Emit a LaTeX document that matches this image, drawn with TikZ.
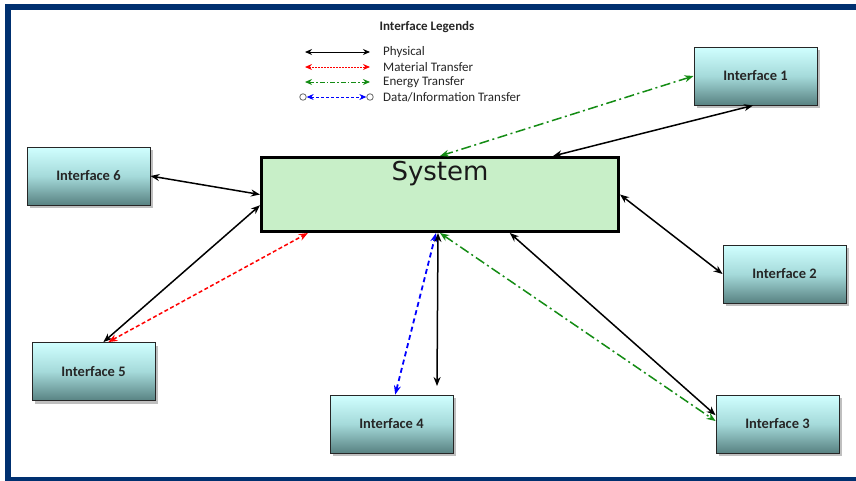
\documentclass[tikz,border=0pt]{standalone}
\usepackage{fontspec}
\setmainfont{Carlito}
\newfontfamily\sysfont{DejaVu Sans}
\usetikzlibrary{arrows.meta,shadows,calc}
\definecolor{frameblue}{RGB}{0,48,112}
\definecolor{sysgreen}{RGB}{200,239,200}
\definecolor{engreen}{RGB}{20,140,20}
\definecolor{infblue}{RGB}{0,0,255}
\definecolor{matred}{RGB}{255,0,0}
\definecolor{boxtop}{RGB}{208,255,255}
\definecolor{boxmid}{RGB}{165,218,218}
\definecolor{boxbot}{RGB}{88,130,130}
\begin{document}
\begin{tikzpicture}[x=1pt,y=-1pt,
  iface/.style={draw=black!85, line width=0.9pt, minimum width=123pt, minimum height=58pt,
    top color=boxtop, bottom color=boxbot, middle color=boxmid,
    font=\bfseries\fontsize{14.5}{16}\selectfont, text=black!85, inner sep=0pt,
    drop shadow={shadow xshift=3pt, shadow yshift=-3pt, fill=black!25, opacity=1}},
  sysbox/.style={draw=black, line width=3pt, fill=sysgreen, minimum width=357pt, minimum height=74pt, inner sep=0pt},
  tipbig/.style={{Stealth[length=9pt,width=7pt]}-{Stealth[length=9pt,width=7pt]}},
  phys/.style={black, line width=1.5pt, tipbig},
  matl/.style={matred, line width=1.5pt, dash pattern=on 4pt off 2.5pt, tipbig},
  enrg/.style={engreen, line width=1.5pt, dash pattern=on 10pt off 3.5pt on 2pt off 3.5pt, tipbig},
  data/.style={infblue, line width=1.8pt, dash pattern=on 5pt off 3.5pt, tipbig},
  tipsmall/.style={{Stealth[length=7pt,width=6pt]}-{Stealth[length=7pt,width=6pt]}},
  legtxt/.style={anchor=west, font=\fontsize{13}{15}\selectfont, text=black!85, inner sep=0pt},
  endcirc/.style={circle, draw=black!60, fill=white, line width=0.8pt, minimum size=6.5pt, inner sep=0pt}
]
\useasboundingbox (0,0) rectangle (856,480);
\fill[white] (0,0) rectangle (856,480);
\draw[frameblue, line width=6pt] (8,7) rectangle (880,479.5);

% legend
\node[font=\bfseries\fontsize{13}{15}\selectfont, text=black!85] (legtitle) at (427,27) {Interface Legends};
\coordinate (p1) at (305,52); \coordinate (p2) at (370,52);
\coordinate (m1) at (305,67); \coordinate (m2) at (370,67);
\coordinate (e1) at (305,82); \coordinate (e2) at (370,82);
\node[endcirc] (d1) at (303,97) {};
\node[endcirc] (d2) at (370,97) {};
\draw[black, line width=1pt, tipsmall] (p1) -- (p2);
\draw[matred, line width=1pt, dash pattern=on 2pt off 1pt, tipsmall] (m1) -- (m2);
\draw[engreen, line width=1pt, dash pattern=on 5pt off 2pt on 1.5pt off 2pt, tipsmall] (e1) -- (e2);
\draw[infblue, line width=1pt, dash pattern=on 3pt off 2pt, tipsmall] (d1) -- (d2);
\node[legtxt] (lt1) at (383,52) {Physical};
\node[legtxt] (lt2) at (383,67) {Material Transfer};
\node[legtxt] (lt3) at (383,82) {Energy Transfer};
\node[legtxt] (lt4) at (383,97) {Data/Information Transfer};

% nodes
\node[sysbox] (sys) at (440,194.5) {};
\node[font=\sysfont\fontsize{26}{30}\selectfont, anchor=base, text=black!90, inner sep=0pt] (systitle) at (440,180) {System};
\node[iface] (i1) at (755.5,76) {Interface 1};
\node[iface] (i2) at (784.5,274) {Interface 2};
\node[iface] (i3) at (777.5,424) {Interface 3};
\node[iface] (i4) at (391.5,424) {Interface 4};
\node[iface] (i5) at (93.5,371.5) {Interface 5};
\node[iface] (i6) at (88.5,176) {Interface 6};
\coordinate (i4free) at (437,386);

% connectors
\draw[phys] ($(i1.south west)!0.48!(i1.south east)$) -- ($(sys.north west)!0.814!(sys.north east)$);
\draw[enrg] (i1.west) -- (sys.north);
\draw[phys] (i6.east) -- (sys.west);
\draw[phys] (i2.west) -- (sys.east);
\draw[phys] ($(i5.north west)!0.58!(i5.north east)$) -- ($(sys.north west)!0.64!(sys.south west)$);
\draw[matl] ($(i5.north west)!0.62!(i5.north east)$) -- ($(sys.south west)!0.133!(sys.south east)$);
\draw[data] ($(i4.north west)!0.53!(i4.north east)$) -- ($(sys.south)+(-4,0)$);
\draw[phys] ($(sys.south)+(-2,0)$) -- (i4free);
\draw[phys] ($(sys.south west)!0.694!(sys.south east)$) -- ($(i3.north west)!0.35!(i3.south west)$);
\draw[enrg] (sys.south) -- ($(i3.west)+(0,-3)$);
\end{tikzpicture}
\end{document}
